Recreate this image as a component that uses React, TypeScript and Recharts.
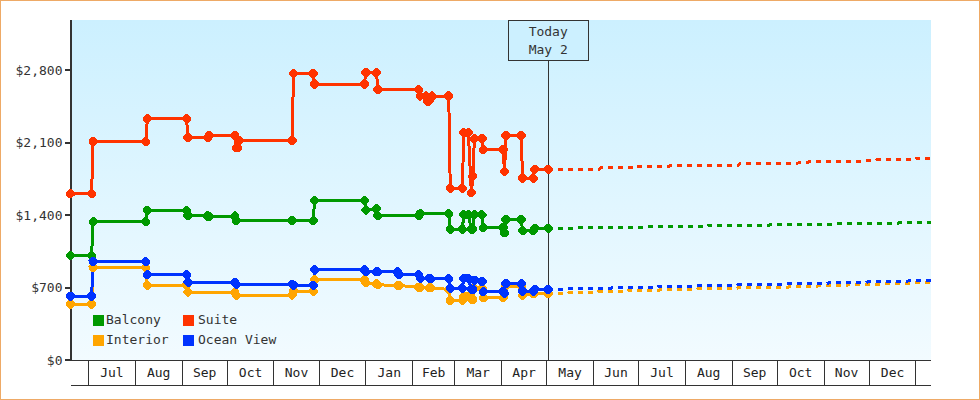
import React from "react";
import {
  ComposedChart,
  CartesianGrid,
  Legend,
  Line,
  ReferenceLine,
  XAxis,
  YAxis,
} from "recharts";

// x values are days counted from the first fare on the chart (Jun 19)
const lastDay = 571;
const todayDay = 317;
const monthStarts = [12, 43, 74, 104, 135, 165, 196, 227, 255, 286, 316, 347, 377, 408, 439, 469, 500, 530, 561];
const monthNames = ["Jul", "Aug", "Sep", "Oct", "Nov", "Dec", "Jan", "Feb", "Mar", "Apr", "May", "Jun", "Jul", "Aug", "Sep", "Oct", "Nov", "Dec", ""];
const priceTicks = [0, 700, 1400, 2100, 2800];

const balconyDays = [0, 14, 15, 50, 51, 77, 78, 91, 92, 109, 110, 147, 161, 162, 195, 196, 203, 204, 231, 232, 251, 252, 260, 261, 264, 266, 267, 268, 273, 274, 287, 288, 289, 299, 300, 307, 308, 317];
const balconyPrices = [1008, 1008, 1336, 1336, 1446, 1446, 1397, 1391, 1385, 1391, 1346, 1346, 1346, 1542, 1542, 1449, 1462, 1394, 1394, 1414, 1414, 1265, 1265, 1404, 1404, 1265, 1265, 1404, 1404, 1278, 1278, 1230, 1359, 1359, 1249, 1249, 1272, 1272];

const suiteDays = [0, 14, 15, 50, 51, 77, 78, 91, 92, 109, 110, 111, 112, 147, 148, 161, 162, 195, 196, 203, 204, 231, 232, 236, 237, 238, 240, 251, 252, 260, 261, 264, 266, 267, 268, 273, 274, 287, 288, 289, 299, 300, 307, 308, 317];
const suitePrices = [1607, 1607, 2110, 2110, 2332, 2332, 2149, 2149, 2171, 2171, 2052, 2052, 2120, 2120, 2768, 2768, 2667, 2667, 2777, 2777, 2613, 2613, 2551, 2551, 2503, 2503, 2551, 2551, 1661, 1661, 2197, 2197, 1617, 1777, 2139, 2139, 2033, 2033, 1820, 2171, 2171, 1758, 1758, 1842, 1842];

const interiorDays = [0, 14, 15, 50, 51, 77, 78, 109, 110, 147, 148, 161, 162, 195, 196, 203, 204, 217, 218, 231, 232, 238, 239, 251, 252, 260, 261, 264, 266, 267, 268, 273, 274, 287, 289, 299, 300, 307, 308, 317];
const interiorPrices = [540, 540, 892, 892, 723, 723, 656, 656, 627, 627, 665, 665, 776, 776, 747, 737, 727, 720, 720, 704, 704, 698, 698, 682, 575, 575, 617, 617, 585, 585, 694, 694, 601, 601, 714, 714, 624, 643, 643, 640];

const oceanDays = [0, 14, 15, 50, 51, 77, 78, 109, 110, 147, 148, 161, 162, 195, 196, 203, 204, 217, 218, 231, 232, 238, 239, 251, 252, 260, 261, 264, 266, 267, 268, 273, 274, 287, 288, 289, 299, 300, 307, 308, 317];
const oceanPrices = [617, 617, 950, 950, 824, 824, 752, 752, 733, 733, 723, 723, 872, 872, 853, 853, 853, 853, 824, 824, 791, 791, 785, 785, 694, 694, 791, 791, 682, 682, 772, 759, 660, 660, 643, 737, 737, 665, 665, 682, 682];

const balconyFutureDays = [317, 336, 337, 382, 383, 422, 423, 463, 464, 508, 509, 549, 550, 571];
const balconyFuturePrices = [1272, 1272, 1278, 1278, 1288, 1288, 1298, 1298, 1307, 1307, 1317, 1317, 1327, 1327];

const suiteFutureDays = [317, 351, 352, 375, 376, 397, 398, 443, 444, 489, 490, 534, 535, 560, 561, 571];
const suiteFuturePrices = [1842, 1842, 1857, 1857, 1866, 1866, 1878, 1884, 1897, 1905, 1915, 1925, 1935, 1935, 1945, 1945];

const interiorFutureDays = [317, 330, 331, 349, 350, 369, 370, 390, 391, 415, 416, 442, 443, 476, 477, 495, 496, 515, 516, 536, 537, 556, 557, 571];
const interiorFuturePrices = [640, 640, 650, 650, 660, 660, 669, 669, 679, 679, 688, 688, 698, 698, 711, 711, 717, 717, 727, 727, 735, 735, 745, 745];

const oceanFutureDays = [317, 329, 330, 358, 359, 389, 390, 415, 416, 442, 443, 472, 473, 502, 503, 528, 529, 555, 556, 571];
const oceanFuturePrices = [682, 682, 688, 688, 698, 698, 708, 708, 717, 717, 727, 727, 737, 737, 746, 746, 756, 756, 766, 766];

const GREEN = "#009900";
const RED = "#ff3300";
const ORANGE = "#ffa500";
const BLUE = "#0033ff";
const INK = "#333333";
const FONT = "'DejaVu Sans Mono', monospace";

const plotLeft = 70.5;
const plotRight = 931;
const pxPerDay = (plotRight - plotLeft) / lastDay;

const zip = (days: number[], prices: number[]) =>
  days.map((day, i) => ({ day, price: prices[i] }));

const legendRows = [
  [{ name: "Balcony", color: GREEN }, { name: "Suite", color: RED }],
  [{ name: "Interior", color: ORANGE }, { name: "Ocean View", color: BLUE }],
];

const fareDot = (color: string) => (props: any) => {
  const { cx, cy, key } = props;
  const d = `M${cx - 1.2} ${cy - 4.6}L${cx + 1.2} ${cy - 4.6}L${cx + 4.6} ${cy - 1.2}L${cx + 4.6} ${cy + 1.2}L${cx + 1.2} ${cy + 4.6}L${cx - 1.2} ${cy + 4.6}L${cx - 4.6} ${cy + 1.2}L${cx - 4.6} ${cy - 1.2}Z`;
  return <path key={key} d={d} fill={color} />;
};

function MonthTick({ x, y, payload, index }: any) {
  const next = monthStarts[index + 1];
  const mid = next === undefined ? x : x + ((next - payload.value) * pxPerDay) / 2;
  // the lower rule of the month strip is drawn piece by piece with the ticks
  const ruleFrom = index === 0 ? plotLeft : x;
  const ruleTo = next === undefined ? plotRight : mid * 2 - x;
  return (
    <g>
      <line x1={x} y1={y} x2={x} y2={y + 25} stroke={INK} strokeWidth={1} />
      <line x1={ruleFrom} y1={y + 25} x2={ruleTo} y2={y + 25} stroke={INK} strokeWidth={1} />
      <text x={mid} y={y + 17} textAnchor="middle" fontFamily={FONT} fontSize={13} fill="#222">
        {monthNames[index]}
      </text>
    </g>
  );
}

function TodayBox({ viewBox }: any) {
  const { x, y } = viewBox;
  return (
    <g>
      <rect x={x - 40} y={y} width={80} height={40} fill="#ccf0ff" stroke={INK} strokeWidth={1} />
      <text x={x} y={y + 16} textAnchor="middle" fontFamily={FONT} fontSize={13} fill={INK}>
        Today
      </text>
      <text x={x} y={y + 34} textAnchor="middle" fontFamily={FONT} fontSize={13} fill={INK}>
        May 2
      </text>
    </g>
  );
}

function FareLegend() {
  return (
    <div style={{ fontFamily: FONT, fontSize: 13, color: INK, lineHeight: "20px" }}>
      {legendRows.map((row) => (
        <div key={row[0].name} style={{ display: "flex" }}>
          {row.map((item, i) => (
            <div key={item.name} style={{ display: "flex", alignItems: "center", width: i === 0 ? 90 : 110 }}>
              <span style={{ width: 11, height: 11, background: item.color, marginRight: i === 0 ? 2 : 4 }} />
              {item.name}
            </div>
          ))}
        </div>
      ))}
    </div>
  );
}

export default function App() {
  return (
    <div
      style={{
        position: "absolute",
        left: 0,
        top: 0,
        width: 980,
        height: 400,
        background: "#fff",
        boxShadow: "inset 0 0 0 1px #eeaa66",
      }}
    >
      <ComposedChart
        width={980}
        height={400}
        margin={{ top: 20, right: 49, bottom: 15, left: 0 }}
        style={{ shapeRendering: "crispEdges" }}
      >
        <defs>
          <linearGradient id="plotBg" x1="0" y1="0" x2="0" y2="1">
            <stop offset="0%" stopColor="#ccf0ff" />
            <stop offset="100%" stopColor="#f2fbff" />
          </linearGradient>
        </defs>
        <CartesianGrid horizontal={false} vertical={false} fill="url(#plotBg)" />
        <XAxis
          type="number"
          dataKey="day"
          domain={[0, lastDay]}
          ticks={monthStarts}
          interval={0}
          height={25}
          tickSize={0}
          tickMargin={0}
          tickLine={false}
          axisLine={{ stroke: INK, strokeWidth: 1 }}
          tick={<MonthTick />}
          allowDuplicatedCategory={false}
        />
        <YAxis
          type="number"
          domain={[0, 3286]}
          ticks={priceTicks}
          width={70.5}
          interval={0}
          tickSize={6}
          tickMargin={2}
          axisLine={{ stroke: INK, strokeWidth: 2 }}
          tickLine={{ stroke: INK, strokeWidth: 2 }}
          tick={{ fontFamily: FONT, fontSize: 13, fill: INK }}
          tickFormatter={(v: number) => `$${v.toLocaleString("en-US")}`}
        />
        <ReferenceLine x={todayDay} stroke={INK} strokeWidth={1} label={<TodayBox />} />

        <Line data={zip(balconyDays, balconyPrices)} dataKey="price" name="Balcony" stroke={GREEN} strokeWidth={3} dot={fareDot(GREEN)} isAnimationActive={false} />
        <Line data={zip(suiteDays, suitePrices)} dataKey="price" name="Suite" stroke={RED} strokeWidth={3} dot={fareDot(RED)} isAnimationActive={false} />
        <Line data={zip(interiorDays, interiorPrices)} dataKey="price" name="Interior" stroke={ORANGE} strokeWidth={3} dot={fareDot(ORANGE)} isAnimationActive={false} />
        <Line data={zip(oceanDays, oceanPrices)} dataKey="price" name="Ocean View" stroke={BLUE} strokeWidth={3} dot={fareDot(BLUE)} isAnimationActive={false} />

        <Line data={zip(balconyFutureDays, balconyFuturePrices)} dataKey="price" legendType="none" stroke={GREEN} strokeWidth={3} strokeDasharray="5 5" dot={false} isAnimationActive={false} />
        <Line data={zip(suiteFutureDays, suiteFuturePrices)} dataKey="price" legendType="none" stroke={RED} strokeWidth={3} strokeDasharray="5 5" dot={false} isAnimationActive={false} />
        <Line data={zip(interiorFutureDays, interiorFuturePrices)} dataKey="price" legendType="none" stroke={ORANGE} strokeWidth={3} strokeDasharray="5 5" dot={false} isAnimationActive={false} />
        <Line data={zip(oceanFutureDays, oceanFuturePrices)} dataKey="price" legendType="none" stroke={BLUE} strokeWidth={3} strokeDasharray="5 5" dot={false} isAnimationActive={false} />

        <Legend
          layout="horizontal"
          verticalAlign="middle"
          align="center"
          content={<FareLegend />}
          wrapperStyle={{ left: 93, top: 310, width: 220 }}
        />
      </ComposedChart>
    </div>
  );
}
